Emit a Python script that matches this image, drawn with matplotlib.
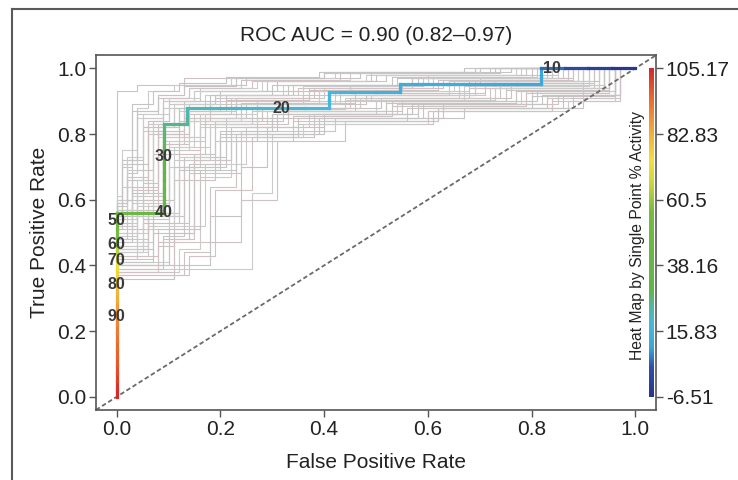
import numpy as np
import matplotlib
matplotlib.use('Agg')
import matplotlib.pyplot as plt
from matplotlib.collections import LineCollection
from matplotlib.colors import LinearSegmentedColormap, Normalize
from matplotlib.lines import Line2D

plt.rcParams['font.family'] = ['Liberation Sans', 'DejaVu Sans']

# scores (single point % activity) of actives and inactives
pos_scores = [104, 102, 100, 98.5, 97, 95.5, 94, 92.5, 91, 89.5, 87, 84.5, 82, 79.5,
              77, 74.5, 70.5, 68, 60, 56, 53, 50, 46,
              38.5, 37, 35.5, 34, 32.5, 31, 30, 29, 28, 27, 26,
              24, 23, 17.5, 16.8, 13.8, 10.6, 10.0]
neg_scores = [43, 40, 25, 22, 21.3, 20.6, 20, 19.2, 18.4, 16, 15.2, 14.5,
              13.2, 12.7, 12.2, 11.7, 11.4, 11.0, 2, -1, -4, -6.51]
score_max = 105.17
score_min = -6.51

cutoff_labels = [10, 20, 30, 40, 50, 60, 70, 80, 90]
cb_ticks = [-6.51, 15.83, 38.16, 60.5, 82.83, 105.17]
cb_labels = ['-6.51', '15.83', '38.16', '60.5', '82.83', '105.17']

# bootstrap curves: x where the curve steps up, and the level after each step
boot_fpr = [
    [0, 0.05, 0.09, 0.14, 0.23, 0.41, 0.55, 0.82],
    [0, 0.02, 0.07, 0.12, 0.18, 0.36, 0.64, 0.91],
    [0, 0.04, 0.10, 0.16, 0.30, 0.50, 0.73, 0.95],
    [0, 0.03, 0.06, 0.13, 0.20, 0.45, 0.70, 0.88],
    [0, 0.08, 0.11, 0.19, 0.27, 0.59, 0.77, 0.96],
    [0, 0.01, 0.05, 0.09, 0.17, 0.32, 0.60, 0.78],
    [0, 0.06, 0.13, 0.22, 0.40, 0.62, 0.86, 0.97],
    [0, 0.02, 0.04, 0.08, 0.14, 0.26, 0.52, 0.85],
    [0, 0.26, 0.30, 0.38, 0.55, 0.75, 0.94],
    [0, 0.11, 0.15, 0.21, 0.33, 0.48, 0.69, 0.93],
    [0, 0.04, 0.13, 0.40, 0.70],
    [0, 0.03, 0.09, 0.17, 0.24, 0.44, 0.66, 0.90],
    [0, 0.05, 0.12, 0.20, 0.35, 0.61, 0.84, 0.96],
    [0, 0.02, 0.06, 0.10, 0.19, 0.38, 0.57, 0.87],
    [0, 0.07, 0.10, 0.18, 0.29, 0.52, 0.80, 0.94],
    [0, 0.01, 0.03, 0.08, 0.13, 0.25, 0.47, 0.76],
    [0, 0.09, 0.14, 0.24, 0.42, 0.63, 0.85, 0.97],
    [0, 0.04, 0.08, 0.15, 0.22, 0.39, 0.68, 0.92],
    [0, 0.03, 0.05, 0.11, 0.21, 0.34, 0.54, 0.83],
    [0, 0.06, 0.12, 0.16, 0.26, 0.46, 0.72, 0.95],
    [0, 0.10, 0.17, 0.25, 0.37, 0.58, 0.79, 0.96],
    [0, 0.02, 0.05, 0.09, 0.16, 0.31, 0.49, 0.74],
    [0, 0.13, 0.18, 0.23, 0.34, 0.56, 0.83, 0.97],
    [0, 0.04, 0.07, 0.12, 0.20, 0.43, 0.65, 0.89],
    [0, 0.05, 0.10, 0.14, 0.28, 0.51, 0.76, 0.93],
    [0, 0.08, 0.24, 0.31, 0.44, 0.62, 0.90],
    [0, 0.01, 0.04, 0.06, 0.11, 0.22, 0.42, 0.70],
    [0, 0.07, 0.15, 0.19, 0.32, 0.53, 0.81, 0.95],
    [0, 0.03, 0.08, 0.13, 0.23, 0.37, 0.61, 0.86],
    [0, 0.06, 0.09, 0.17, 0.27, 0.49, 0.71, 0.91],
    [0, 0.02, 0.11, 0.20, 0.39, 0.67, 0.88, 0.97],
    [0, 0.05, 0.08, 0.14, 0.18, 0.35, 0.57, 0.84],
    [0, 0.12, 0.16, 0.22, 0.36, 0.60, 0.87, 0.96],
    [0, 0.03, 0.07, 0.10, 0.15, 0.29, 0.50, 0.79],
    [0, 0.04, 0.09, 0.13, 0.25, 0.45, 0.74, 0.94],
    [0, 0.06, 0.11, 0.18, 0.30, 0.54, 0.78, 0.93],
    [0, 0.03, 0.06, 0.11, 0.19, 0.33, 0.58, 0.81],
    [0, 0.07, 0.12, 0.17, 0.28, 0.47, 0.68, 0.92],
    [0, 0.02, 0.05, 0.10, 0.16, 0.27, 0.45, 0.72],
    [0, 0.09, 0.13, 0.21, 0.31, 0.57, 0.82, 0.96],
    [0, 0.04, 0.06, 0.12, 0.22, 0.40, 0.63, 0.87],
    [0, 0.05, 0.11, 0.15, 0.24, 0.41, 0.66, 0.90],
    [0, 0.01, 0.03, 0.07, 0.12, 0.21, 0.39, 0.67],
    [0, 0.14, 0.19, 0.26, 0.38, 0.60, 0.84, 0.97],
    [0, 0.06, 0.10, 0.16, 0.25, 0.43, 0.69, 0.94],
    [0, 0.03, 0.08, 0.12, 0.18, 0.30, 0.53, 0.80],
    [0, 0.08, 0.13, 0.19, 0.33, 0.55, 0.75, 0.95],
    [0, 0.02, 0.04, 0.09, 0.15, 0.28, 0.48, 0.77],
    [0, 0.10, 0.16, 0.23, 0.35, 0.58, 0.80, 0.96],
    [0, 0.05, 0.07, 0.13, 0.21, 0.37, 0.62, 0.88],
    [0, 0.04, 0.10, 0.14, 0.26, 0.44, 0.67, 0.91],
    [0, 0.07, 0.14, 0.20, 0.30, 0.52, 0.77, 0.94],
    [0, 0.02, 0.06, 0.09, 0.14, 0.24, 0.43, 0.73],
    [0, 0.03, 0.09, 0.16, 0.23, 0.42, 0.64, 0.89],
    [0, 0.18, 0.24, 0.29, 0.40, 0.57, 0.83, 0.96],
    [0, 0.06, 0.08, 0.14, 0.24, 0.46, 0.71, 0.92],
    [0, 0.05, 0.12, 0.18, 0.27, 0.50, 0.73, 0.93],
    [0, 0.01, 0.04, 0.08, 0.13, 0.23, 0.40, 0.69],
    [0, 0.11, 0.15, 0.22, 0.34, 0.53, 0.79, 0.95],
    [0, 0.04, 0.07, 0.11, 0.20, 0.36, 0.59, 0.85],
]
boot_tpr = [
    [0.55, 0.62, 0.80, 0.87, 0.90, 0.93, 0.95, 1.0],
    [0.48, 0.57, 0.74, 0.84, 0.89, 0.92, 0.96, 1.0],
    [0.42, 0.51, 0.70, 0.82, 0.86, 0.90, 0.94, 1.0],
    [0.60, 0.71, 0.83, 0.90, 0.93, 0.95, 0.97, 1.0],
    [0.38, 0.46, 0.66, 0.78, 0.85, 0.89, 0.93, 1.0],
    [0.51, 0.64, 0.81, 0.88, 0.92, 0.95, 0.98, 1.0],
    [0.45, 0.55, 0.72, 0.80, 0.84, 0.88, 0.92, 1.0],
    [0.58, 0.68, 0.86, 0.91, 0.94, 0.96, 0.98, 1.0],
    [0.39, 0.62, 0.80, 0.86, 0.90, 0.94, 1.0],
    [0.36, 0.50, 0.73, 0.85, 0.89, 0.92, 0.96, 1.0],
    [0.93, 0.95, 0.97, 0.985, 1.0],
    [0.50, 0.59, 0.78, 0.84, 0.88, 0.91, 0.95, 1.0],
    [0.44, 0.53, 0.69, 0.79, 0.83, 0.87, 0.91, 1.0],
    [0.56, 0.66, 0.84, 0.89, 0.91, 0.94, 0.97, 1.0],
    [0.47, 0.58, 0.76, 0.83, 0.87, 0.90, 0.93, 1.0],
    [0.54, 0.70, 0.87, 0.92, 0.95, 0.97, 0.99, 1.0],
    [0.40, 0.48, 0.68, 0.81, 0.85, 0.89, 0.92, 1.0],
    [0.53, 0.61, 0.79, 0.86, 0.89, 0.93, 0.96, 1.0],
    [0.57, 0.66, 0.82, 0.88, 0.92, 0.95, 0.97, 1.0],
    [0.43, 0.56, 0.75, 0.83, 0.87, 0.90, 0.94, 1.0],
    [0.41, 0.52, 0.71, 0.82, 0.86, 0.89, 0.93, 1.0],
    [0.59, 0.72, 0.85, 0.90, 0.93, 0.96, 0.985, 1.0],
    [0.37, 0.44, 0.64, 0.78, 0.84, 0.88, 0.91, 1.0],
    [0.49, 0.60, 0.80, 0.87, 0.90, 0.93, 0.96, 1.0],
    [0.46, 0.54, 0.77, 0.85, 0.88, 0.91, 0.95, 1.0],
    [0.40, 0.47, 0.60, 0.78, 0.84, 0.88, 1.0],
    [0.61, 0.75, 0.88, 0.93, 0.95, 0.97, 0.99, 1.0],
    [0.45, 0.50, 0.74, 0.84, 0.87, 0.90, 0.93, 1.0],
    [0.52, 0.63, 0.81, 0.87, 0.91, 0.94, 0.97, 1.0],
    [0.50, 0.58, 0.79, 0.86, 0.90, 0.92, 0.95, 1.0],
    [0.55, 0.60, 0.70, 0.80, 0.85, 0.88, 0.92, 1.0],
    [0.57, 0.65, 0.83, 0.89, 0.92, 0.94, 0.97, 1.0],
    [0.38, 0.45, 0.67, 0.79, 0.83, 0.87, 0.90, 1.0],
    [0.53, 0.69, 0.84, 0.90, 0.93, 0.96, 0.98, 1.0],
    [0.48, 0.57, 0.77, 0.85, 0.88, 0.91, 0.95, 1.0],
    [0.44, 0.52, 0.72, 0.82, 0.86, 0.89, 0.93, 1.0],
    [0.47, 0.62, 0.82, 0.89, 0.92, 0.95, 0.975, 1.0],
    [0.42, 0.55, 0.74, 0.84, 0.88, 0.91, 0.94, 1.0],
    [0.60, 0.73, 0.86, 0.91, 0.94, 0.965, 0.985, 1.0],
    [0.39, 0.49, 0.70, 0.81, 0.86, 0.89, 0.92, 1.0],
    [0.52, 0.63, 0.80, 0.88, 0.91, 0.94, 0.965, 1.0],
    [0.50, 0.56, 0.76, 0.85, 0.89, 0.92, 0.955, 1.0],
    [0.58, 0.71, 0.89, 0.93, 0.955, 0.975, 0.99, 1.0],
    [0.37, 0.43, 0.63, 0.79, 0.84, 0.87, 0.90, 1.0],
    [0.46, 0.59, 0.78, 0.86, 0.89, 0.92, 0.95, 1.0],
    [0.55, 0.64, 0.82, 0.88, 0.92, 0.95, 0.975, 1.0],
    [0.43, 0.51, 0.73, 0.83, 0.87, 0.90, 0.935, 1.0],
    [0.57, 0.69, 0.85, 0.90, 0.93, 0.96, 0.98, 1.0],
    [0.40, 0.51, 0.69, 0.80, 0.85, 0.88, 0.915, 1.0],
    [0.51, 0.60, 0.81, 0.87, 0.905, 0.935, 0.965, 1.0],
    [0.45, 0.58, 0.75, 0.84, 0.875, 0.905, 0.945, 1.0],
    [0.41, 0.53, 0.71, 0.81, 0.86, 0.895, 0.93, 1.0],
    [0.59, 0.67, 0.84, 0.91, 0.94, 0.965, 0.985, 1.0],
    [0.49, 0.61, 0.79, 0.85, 0.89, 0.925, 0.96, 1.0],
    [0.40, 0.55, 0.70, 0.82, 0.86, 0.89, 0.92, 1.0],
    [0.48, 0.56, 0.80, 0.86, 0.895, 0.925, 0.955, 1.0],
    [0.44, 0.55, 0.73, 0.83, 0.87, 0.905, 0.94, 1.0],
    [0.56, 0.72, 0.87, 0.92, 0.945, 0.97, 0.99, 1.0],
    [0.38, 0.48, 0.72, 0.82, 0.855, 0.885, 0.925, 1.0],
    [0.54, 0.66, 0.83, 0.89, 0.92, 0.945, 0.97, 1.0],
]

# colour scale like the printed heat map
cmap = LinearSegmentedColormap.from_list('heat', [
    (0.00, '#27358f'), (0.09, '#3050a8'), (0.15, '#3aa8dc'), (0.22, '#48b7de'),
    (0.27, '#4fb8a8'), (0.32, '#5fb54a'), (0.56, '#74bb40'), (0.66, '#d2da38'),
    (0.72, '#f0e03a'), (0.82, '#f2a33a'), (0.92, '#e8632e'), (1.00, '#d2282a')])
norm = Normalize(score_min, score_max)

# ROC points from the scores
scores = np.array(pos_scores + neg_scores)
is_pos = np.array([1] * len(pos_scores) + [0] * len(neg_scores))
order = np.argsort(-scores, kind='stable')
tp = np.cumsum(is_pos[order])
fp = np.cumsum(1 - is_pos[order])
fpr = np.concatenate([[0], fp / len(neg_scores)])
tpr = np.concatenate([[0], tp / len(pos_scores)])
cut = np.concatenate([[score_max], scores[order]])

fig = plt.figure(figsize=(7.38, 4.80), dpi=100)
ax = fig.add_axes([0.130, 0.146, 0.759, 0.739])

gray_cols = ['#c4c4c4', '#d0c2c2', '#cbcbcb']
for i, (fx, ty) in enumerate(zip(boot_fpr, boot_tpr)):
    xs = [fx[0]]
    ys = [0]
    for j in range(len(fx)):
        xs.append(fx[j]); ys.append(ty[j])
        nx = fx[j + 1] if j + 1 < len(fx) else 1.0
        xs.append(nx); ys.append(ty[j])
    ax.plot(xs, ys, color=gray_cols[i % 3], lw=0.8, zorder=1)

ax.plot([-0.04, 1.04], [-0.04, 1.04], color='#6a6a6a', lw=1.3,
        dashes=(2.5, 1.5), zorder=2)

pts = np.column_stack([fpr, tpr])
segs = np.stack([pts[:-1], pts[1:]], axis=1)
seg_col = cmap(norm((cut[:-1] + cut[1:]) / 2))
lc = LineCollection(segs, colors=seg_col, linewidths=2.3, zorder=3,
                    capstyle='projecting')
ax.add_collection(lc)

for lab in cutoff_labels:
    k = np.argmin(np.abs(cut - lab))
    # the top label sits just right of its step, as in the original
    ha = 'left' if tpr[k] >= 1.0 else 'center'
    ax.text(fpr[k] + (0.004 if ha == 'left' else 0), tpr[k], str(lab),
            fontsize=11.5, fontweight='bold', color='#3a3a3a',
            ha=ha, va='center', zorder=4)

# colour bar strip inside the plot
grad = np.linspace(0, 1, 256).reshape(-1, 1)
ax.imshow(grad, extent=[1.027, 1.036, 0, 1], origin='lower', cmap=cmap,
          aspect='auto', zorder=3)
ax.text(1.004, 0.49, 'Heat Map by Single Point % Activity', rotation=90,
        fontsize=11.3, ha='center', va='center', color='#222222')

ax.set_xlim(-0.04, 1.04)
ax.set_ylim(-0.04, 1.04)
ticks = [0, 0.2, 0.4, 0.6, 0.8, 1.0]
ax.set_xticks(ticks)
ax.set_yticks(ticks)
ax.set_xticklabels(['0.0', '0.2', '0.4', '0.6', '0.8', '1.0'])
ax.set_yticklabels(['0.0', '0.2', '0.4', '0.6', '0.8', '1.0'])
ax.tick_params(labelsize=15, length=5, width=1, color='#555555',
               labelcolor='#222222', pad=2)
for s in ax.spines.values():
    s.set_color('#555555')
    s.set_linewidth(1.2)

ax2 = ax.twinx()
ax2.set_ylim(ax.get_ylim())
ax2.set_yticks([(v - score_min) / (score_max - score_min) for v in cb_ticks])
ax2.set_yticklabels(cb_labels)
ax2.tick_params(labelsize=15, length=5, width=1, color='#555555',
                labelcolor='#222222', pad=2)
for s in ax2.spines.values():
    s.set_visible(False)

ax.set_xlabel('False Positive Rate', fontsize=15, color='#222222', labelpad=10)
ax.set_ylabel('True Positive Rate', fontsize=15, color='#222222', labelpad=6)
ax.set_title('ROC AUC = 0.90 (0.82\u20130.97)', fontsize=15, color='#222222', pad=10)

# outer frame of the figure panel
fig.add_artist(Line2D([12 / 738, 12 / 738], [0, 1 - 9 / 480], color='#5a5a5a', lw=1.5))
fig.add_artist(Line2D([12 / 738, 1], [1 - 9 / 480, 1 - 9 / 480], color='#5a5a5a', lw=1.5))

fig.savefig('out.png', dpi=100)
